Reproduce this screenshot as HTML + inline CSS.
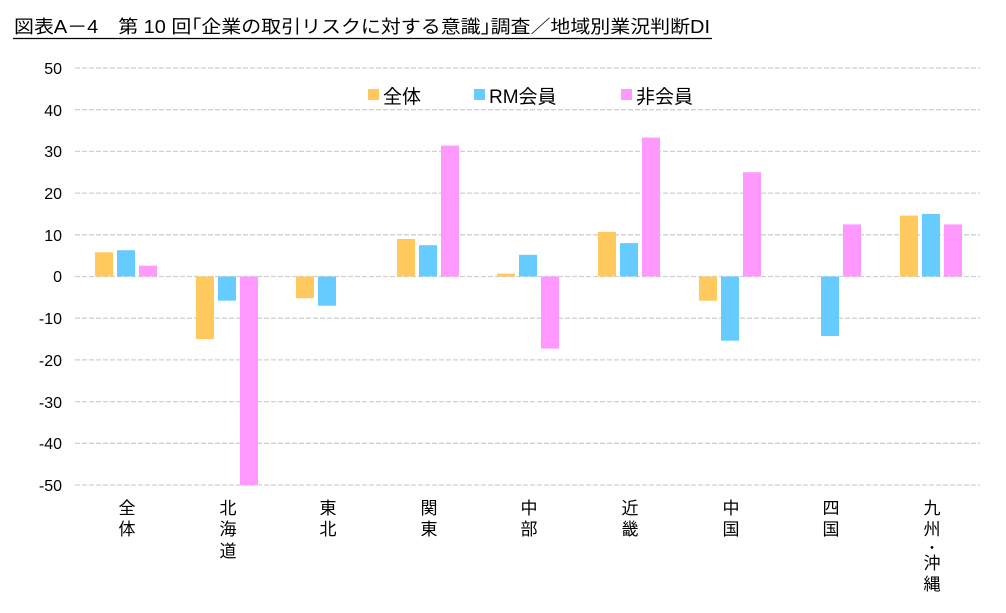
<!DOCTYPE html>
<html><head><meta charset="utf-8"><style>
body{margin:0;background:#fff;}
svg{display:block;font-family:"Liberation Sans","Noto Sans CJK JP",sans-serif;}
</style></head><body>
<svg width="1006" height="613" xmlns="http://www.w3.org/2000/svg">
<text x="14" y="33" font-size="18" fill="#000" textLength="696" lengthAdjust="spacingAndGlyphs">図表A－4　第 10 回｢企業の取引リスクに対する意識｣調査／地域別業況判断DI</text>
<line x1="13" y1="38.5" x2="712" y2="38.5" stroke="#000" stroke-width="1.3"/>
<g stroke="#d0d0d0" stroke-width="1.3" stroke-dasharray="5,2">
<line x1="75" x2="980" y1="68" y2="68"/><line x1="75" x2="980" y1="109.7" y2="109.7"/>
<line x1="75" x2="980" y1="151.4" y2="151.4"/><line x1="75" x2="980" y1="193.1" y2="193.1"/>
<line x1="75" x2="980" y1="234.8" y2="234.8"/><line x1="75" x2="980" y1="276.5" y2="276.5"/>
<line x1="75" x2="980" y1="318.2" y2="318.2"/><line x1="75" x2="980" y1="359.9" y2="359.9"/>
<line x1="75" x2="980" y1="401.6" y2="401.6"/><line x1="75" x2="980" y1="443.3" y2="443.3"/>
<line x1="75" x2="980" y1="485" y2="485"/>
</g>
<g font-size="16" text-anchor="end" fill="#000">
<text x="62" y="74">50</text><text x="62" y="116">40</text><text x="62" y="157">30</text>
<text x="62" y="199">20</text><text x="62" y="241">10</text><text x="62" y="282">0</text>
<text x="62" y="324">-10</text><text x="62" y="366">-20</text><text x="62" y="408">-30</text>
<text x="62" y="449">-40</text><text x="62" y="491">-50</text>
</g>
<g font-size="19" fill="#000">
<rect x="368" y="89" width="11" height="11" fill="#FFC95E"/><text x="383" y="103">全体</text>
<rect x="474" y="89" width="11" height="11" fill="#66CCFF"/><text x="489" y="103">RM会員</text>
<rect x="621" y="89" width="11" height="11" fill="#FF99FF"/><text x="636" y="103">非会員</text>
</g>
<g>
<rect x="95" y="252.3" width="18" height="24.2" fill="#FFC95E"/>
<rect x="117" y="250.2" width="18" height="26.3" fill="#66CCFF"/>
<rect x="139" y="265.7" width="18" height="10.8" fill="#FF99FF"/>

<rect x="196" y="276.5" width="18" height="62.6" fill="#FFC95E"/>
<rect x="218" y="276.5" width="18" height="24.2" fill="#66CCFF"/>
<rect x="240" y="276.5" width="18" height="208.5" fill="#FF99FF"/>

<rect x="296" y="276.5" width="18" height="21.7" fill="#FFC95E"/>
<rect x="318" y="276.5" width="18" height="29.2" fill="#66CCFF"/>

<rect x="397" y="239" width="18" height="37.5" fill="#FFC95E"/>
<rect x="419" y="245.2" width="18" height="31.3" fill="#66CCFF"/>
<rect x="441" y="145.6" width="18" height="130.9" fill="#FF99FF"/>

<rect x="497" y="273.6" width="18" height="2.9" fill="#FFC95E"/>
<rect x="519" y="254.8" width="18" height="21.7" fill="#66CCFF"/>
<rect x="541" y="276.5" width="18" height="72.1" fill="#FF99FF"/>

<rect x="598" y="231.9" width="18" height="44.6" fill="#FFC95E"/>
<rect x="620" y="243.1" width="18" height="33.4" fill="#66CCFF"/>
<rect x="642" y="137.6" width="18" height="138.9" fill="#FF99FF"/>

<rect x="699" y="276.5" width="18" height="24.2" fill="#FFC95E"/>
<rect x="721" y="276.5" width="18" height="64.2" fill="#66CCFF"/>
<rect x="743" y="172.2" width="18" height="104.3" fill="#FF99FF"/>

<rect x="821" y="276.5" width="18" height="59.6" fill="#66CCFF"/>
<rect x="843" y="224.4" width="18" height="52.1" fill="#FF99FF"/>

<rect x="900" y="215.6" width="18" height="60.9" fill="#FFC95E"/>
<rect x="922" y="213.9" width="18" height="62.6" fill="#66CCFF"/>
<rect x="944" y="224.4" width="18" height="52.1" fill="#FF99FF"/>
</g>
<g font-size="17" text-anchor="middle" fill="#000">
<text x="127" y="514">全</text><text x="127" y="535">体</text>
<text x="228" y="514">北</text><text x="228" y="535">海</text><text x="228" y="557">道</text>
<text x="328" y="514">東</text><text x="328" y="535">北</text>
<text x="429" y="514">関</text><text x="429" y="535">東</text>
<text x="529" y="514">中</text><text x="529" y="535">部</text>
<text x="630" y="514">近</text><text x="630" y="535">畿</text>
<text x="731" y="514">中</text><text x="731" y="535">国</text>
<text x="831" y="514">四</text><text x="831" y="535">国</text>
<text x="932" y="514">九</text><text x="932" y="535">州</text><text x="932" y="554">･</text><text x="932" y="569">沖</text><text x="932" y="590">縄</text>
</g>
</svg>
</body></html>
